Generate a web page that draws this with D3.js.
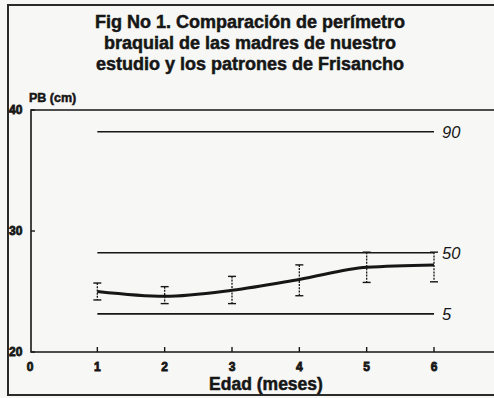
<!DOCTYPE html>
<html>
<head>
<meta charset="utf-8">
<script src="https://cdn.jsdelivr.net/npm/d3@7"></script>
<style>
  html, body { margin: 0; padding: 0; background: #f7f7f5; }
  svg { display: block; }
  text { font-family: "Liberation Sans", Arial, sans-serif; fill: #161616; }
  text.heavy { font-weight: bold; stroke: #161616; stroke-width: 0.5px; }
  text.tick { stroke-width: 0.8px; }
</style>
</head>
<body>
<div id="chart"></div>
<script>
const titleLines = [
  'Fig No 1. Comparación de perímetro',
  'braquial de las madres de nuestro',
  'estudio y los patrones de Frisancho'
];
const months = [1, 2, 3, 4, 5, 6];
const meanPB = [25.0, 24.6, 25.1, 26.0, 27.0, 27.2];
const upperPB = [25.7, 25.4, 26.25, 27.2, 28.25, 28.25];
const lowerPB = [24.3, 24.0, 24.0, 24.65, 25.75, 25.8];
const percentileLabels = ['90', '50', '5'];
const percentileValues = [38.2, 28.2, 23.15];
const xTicks = [0, 1, 2, 3, 4, 5, 6];
const yTicks = [20, 30, 40];

const width = 494, height = 398;
const ink = '#161616';

const svg = d3.select('#chart').append('svg')
  .attr('width', width)
  .attr('height', height);

// outer frame of the figure
svg.append('path')
  .attr('d', `M${width},5 H8 V395 H${width}`)
  .attr('fill', 'none')
  .attr('stroke', '#2a2a2a')
  .attr('stroke-width', 2);

// title
svg.selectAll('text.title')
  .data(titleLines)
  .join('text')
  .attr('class', 'title heavy')
  .attr('x', 250)
  .attr('y', (d, i) => 28 + i * 21)
  .attr('text-anchor', 'middle')
  .style('font-size', '18px')
  .text(d => d);

const x = d3.scaleLinear().domain([0, 6]).range([30, 434]);
const y = d3.scaleLinear().domain([20, 40]).range([352, 110]);

// plot box (left, top, bottom)
svg.append('path')
  .attr('d', `M${width},${y(40)} H${x(0) + 1} V${y(20)} H${width}`)
  .attr('fill', 'none')
  .attr('stroke', ink)
  .attr('stroke-width', 1.6);

svg.append('text')
  .attr('class', 'heavy')
  .attr('x', 29)
  .attr('y', 102)
  .style('font-size', '12.5px')
  .text('PB (cm)');

// y ticks
svg.selectAll('line.ytick')
  .data(yTicks)
  .join('line')
  .attr('x1', x(0) + 1).attr('x2', x(0) + 5)
  .attr('y1', d => y(d)).attr('y2', d => y(d))
  .attr('stroke', ink).attr('stroke-width', 1.4);

svg.selectAll('text.ylab')
  .data(yTicks)
  .join('text')
  .attr('class', 'ylab heavy tick')
  .attr('x', 9)
  .attr('y', d => y(d) + 4)
  .style('font-size', '12px')
  .text(d => d);

// x ticks
svg.selectAll('line.xtick')
  .data(xTicks.filter(d => d > 0))
  .join('line')
  .attr('x1', d => x(d)).attr('x2', d => x(d))
  .attr('y1', y(20)).attr('y2', y(20) - 5)
  .attr('stroke', ink).attr('stroke-width', 1.4);

svg.selectAll('text.xlab')
  .data(xTicks)
  .join('text')
  .attr('class', 'xlab heavy tick')
  .attr('x', d => x(d))
  .attr('y', 371)
  .attr('text-anchor', 'middle')
  .style('font-size', '12px')
  .text(d => d);

svg.append('text')
  .attr('class', 'heavy')
  .attr('x', 266)
  .attr('y', 390)
  .attr('text-anchor', 'middle')
  .style('font-size', '17.5px')
  .text('Edad (meses)');

// Frisancho percentile lines
svg.selectAll('line.pct')
  .data(percentileValues)
  .join('line')
  .attr('x1', x(1)).attr('x2', x(6))
  .attr('y1', d => y(d)).attr('y2', d => y(d))
  .attr('stroke', ink).attr('stroke-width', 1.6);

svg.selectAll('text.pct')
  .data(percentileValues)
  .join('text')
  .attr('x', x(6) + 8)
  .attr('y', d => y(d) + 6)
  .style('font-size', '16.5px')
  .style('font-style', 'italic')
  .text((d, i) => percentileLabels[i]);

// error bars
const bars = svg.selectAll('g.err')
  .data(months)
  .join('g')
  .attr('class', 'err');

bars.append('line')
  .attr('x1', d => x(d)).attr('x2', d => x(d))
  .attr('y1', (d, i) => y(upperPB[i])).attr('y2', (d, i) => y(lowerPB[i]))
  .attr('stroke', ink).attr('stroke-width', 1.3)
  .attr('stroke-dasharray', '2,1.2');

[upperPB, lowerPB].forEach(arr => {
  bars.append('line')
    .attr('x1', d => x(d) - 4).attr('x2', d => x(d) + 4)
    .attr('y1', (d, i) => y(arr[i])).attr('y2', (d, i) => y(arr[i]))
    .attr('stroke', ink).attr('stroke-width', 1.4);
});

// mean line of our mothers
const line = d3.line()
  .x(d => x(d[0]))
  .y(d => y(d[1]))
  .curve(d3.curveMonotoneX);

svg.append('path')
  .datum(months.map((m, i) => [m, meanPB[i]]))
  .attr('d', line)
  .attr('fill', 'none')
  .attr('stroke', ink)
  .attr('stroke-width', 3);
</script>
</body>
</html>
